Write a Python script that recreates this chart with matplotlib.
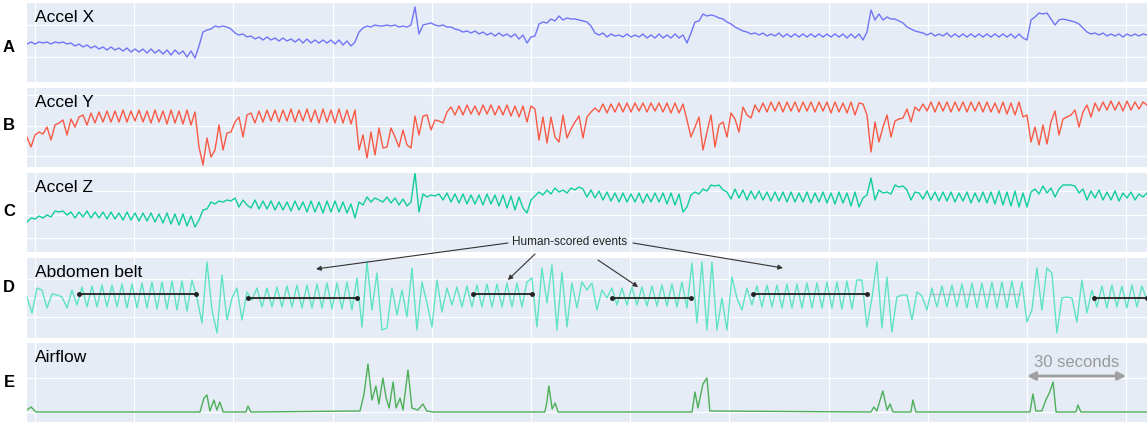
import numpy as np
import matplotlib.pyplot as plt

plt.rcParams['font.family'] = ['Liberation Sans', 'DejaVu Sans']

# ---------------- data ----------------
# dense signals are sampled on a regular grid, values in arbitrary units
t_start = -2.42           # seconds at the left edge
step_acc = 1.2097         # sample step of accel X/Y/Z (s)
step_abd = 1.512          # sample step of abdomen belt (s)

accel_x = [38,40,38,40,39,40,38,40,39,40, 38,39,36,38,35,37,34,36,33,35,
           32,35,32,34,31,34,30,33,30,33, 29,33,29,32,28,32,27,32,28,31,
           25,31,24,36,50,52,53,56,55,56, 55,53,49,47,48,45,46,43,45,42,
           45,42,44,41,44,41,43,40,43,39, 43,39,42,39,42,39,42,38,42,37,
           41,36,40,50,54,56,55,57,56,56, 57,56,57,55,56,55,57,75,48,57,
           58,59,57,56,57,55,55,53,52,50, 51,49,51,48,50,47,49,46,49,46,
           48,45,48,43,47,39,45,46,58,60, 59,63,61,66,62,64,63,63,62,61,
           60,56,49,47,49,45,48,46,47,45, 48,45,47,45,48,44,47,44,48,44,
           47,44,48,44,47,39,49,60,61,68, 66,67,66,64,63,60,58,55,53,51,
           50,48,49,47,49,46,48,46,49,45, 48,45,48,45,48,45,48,45,48,45,
           48,45,48,45,48,44,48,44,48,42, 50,72,62,68,62,65,63,63,61,59,
           55,53,51,50,49,47,49,46,48,46, 49,45,48,45,48,45,48,45,48,45,
           48,45,48,45,48,45,48,44,48,44, 42,62,65,69,68,69,63,57,62,63,
           62,61,60,58,54,50,48,49,47,49, 46,48,46,48,45,48,46,48,46,48,
           47]

accel_y = [30,20,32,35,33,40,27,42,44,47, 32,48,40,50,52,42,54,44,55,45,
           56,45,56,45,57,45,56,46,57,45, 56,44,57,45,56,43,57,44,56,43,
           57,42,55,20,2,29,10,17,42,17, 34,35,45,50,30,52,54,44,56,45,
           57,46,57,45,57,46,58,45,57,46, 58,45,57,44,58,45,57,44,58,44,
           57,43,57,17,32,9,35,12,39,19, 20,39,30,20,37,22,19,51,32,51,
           52,37,47,46,44,55,60,52,61,52, 62,53,61,52,62,53,62,52,61,52,
           62,51,61,50,61,45,61,58,27,50, 24,50,30,25,52,29,38,45,51,29,
           50,55,59,55,63,54,63,55,64,55, 64,55,64,56,64,55,64,56,64,55,
           64,54,64,54,63,47,30,40,50,17, 35,52,20,42,45,30,54,48,35,60,
           52,49,62,55,64,55,65,56,65,55, 65,56,65,55,65,56,65,55,65,56,
           65,54,65,55,64,54,65,52,64,63, 52,15,45,25,40,52,30,46,48,49,
           58,45,60,56,63,56,65,55,65,56, 65,55,65,56,65,55,65,56,65,55,
           65,55,64,54,65,53,64,52,65,50, 52,25,40,22,42,23,45,56,32,48,
           50,52,57,40,55,62,50,64,56,65, 57,66,57,65,56,66,57,65,58,65,
           62]

accel_z = [30,34,33,36,34,37,35,41,40,41, 37,40,34,40,35,41,34,40,34,40,
           33,40,33,39,32,40,32,39,31,39, 31,39,30,38,29,39,28,38,27,38,
           26,36,25,32,42,43,50,48,51,50, 52,51,54,45,52,47,44,52,43,51,
           43,51,42,50,42,50,41,51,42,50, 40,51,40,50,39,51,40,51,40,50,
           39,48,34,50,47,55,50,54,52,50, 55,49,54,47,53,46,50,79,40,58,
           55,57,56,58,52,59,50,58,49,58, 48,57,48,57,47,58,48,57,46,57,
           44,56,42,55,44,39,52,56,60,57, 62,58,64,60,62,59,64,62,65,63,
           55,62,54,61,52,60,51,59,50,59, 50,58,50,59,49,58,50,59,50,59,
           48,59,47,58,40,45,57,60,58,63, 61,67,66,67,62,60,53,63,54,62,
           52,61,53,61,52,60,51,60,51,60, 50,60,50,59,50,60,49,59,50,60,
           49,59,48,60,49,59,46,60,45,54, 57,74,52,62,59,60,58,67,65,66,
           62,52,60,59,53,61,52,60,51,60, 51,60,50,59,51,60,49,59,50,60,
           49,60,48,61,47,60,46,61,45,59, 45,60,63,58,66,59,64,55,63,67,
           67,67,66,59,63,52,61,54,62,52, 60,52,61,51,59,54,60,52,58,55,
           59]

abdomen = [41,25,50,48,30,44,43,41,30,48, 33,51,31,52,31,53,31,53,31,54,
           30,54,30,55,30,56,29,56,29,57, 28,57,27,58,40,15,76,28,5,63,
           18,40,50,18,46,38,50,31,50,31, 51,31,52,31,53,30,53,30,54,30,
           55,29,55,29,56,28,60,11,76,28, 65,8,10,50,23,48,21,70,8,56,
           35,11,58,26,50,33,51,31,52,31, 53,31,54,31,54,31,55,31,55,31,
           56,60,11,70,35,73,8,66,11,55, 30,56,48,55,28,48,40,50,33,50,
           33,51,33,51,32,52,32,53,32,54, 31,56,30,75,15,76,8,76,8,40,
           8,61,40,28,50,33,52,31,53,31, 53,30,54,30,54,30,55,30,55,30,
           56,30,56,29,57,29,58,58,11,40, 76,10,61,6,41,43,43,18,46,42,
           28,50,31,52,31,53,31,54,30,55, 30,55,30,56,30,56,30,57,30,56,
           16,28,70,28,70,65,5,40,41,40, 16,58,25,48,31,52,30,53,31,52,
           30,53,31,52,38]

# airflow is flat most of the time: vertices (time s, value)
airflow_t = [-2.4, -1.2, 0.3, 49.9, 51.1, 52.0, 52.9, 54.1, 55.0, 55.9, 56.9,
             63.8, 64.4, 65.3, 98.3, 99.5, 100.7, 101.9, 103.1, 104.0, 105.2,
             106.2, 107.1, 108.3, 109.2, 110.4, 111.3, 112.8, 114.0, 115.8,
             117.3, 118.5, 120.4, 154.2, 154.8, 155.4, 156.4, 157.3, 158.2,
             198.7, 199.6, 200.5, 202.0, 203.2, 204.1, 252.8, 253.7, 254.6,
             256.4, 257.7, 258.6, 259.5, 264.9, 265.5, 266.4, 300.9, 301.8,
             302.7, 304.5, 305.7, 306.9, 307.9, 308.8, 314.8, 315.4, 316.3,
             336.3]
airflow_v = [12, 15, 10, 10, 24, 27, 11, 22, 12, 20, 10,
             10, 16, 10, 11, 28, 58, 22, 36, 18, 44,
             24, 14, 40, 14, 24, 12, 52, 14, 12,
             18, 11, 10, 10, 20, 36, 13, 19, 10,
             10, 30, 14, 38, 44, 11, 10, 15, 11,
             31, 12, 18, 10, 10, 22, 10, 10, 28,
             11, 11, 22, 30, 40, 10, 10, 17, 10,
             10]

# human-scored events on the abdomen belt
event_start = [13.3, 64.4, 132.5, 174.5, 217.1, 320.2]
event_end = [48.7, 97.4, 150.3, 198.4, 251.6, 336.3]
event_level = [44, 40, 44, 40, 44, 40]
arrow_tip_t = [85.0, 143.0, 182.4, 226.2]
arrow_tip_v = [69, 58, 51, 70]

names = ['Accel X', 'Accel Y', 'Accel Z', 'Abdomen belt', 'Airflow']
letters = ['A', 'B', 'C', 'D', 'E']
colors = ['#7075F5', '#F95A45', '#12CE98', '#5FE3C3', '#4DAF58']

# ---------------- layout (pixels of a 1147x423 canvas) ----------------
W, H = 1147, 423
tops = [3, 88, 173, 258, 343]
bots = [82, 167, 252, 338, 422]
hgrid = [[25, 57], [11, 41, 72], [14, 37, 61], [21, 40, 59], [10, 44]]
letter_y = [48, 125, 212, 288, 382]

fig = plt.figure(figsize=(W / 100, H / 100), dpi=100)

t_acc = t_start + np.arange(len(accel_x)) * step_acc
t_abd = t_start + np.arange(len(abdomen)) * step_abd
series = [(t_acc, accel_x), (t_acc, accel_y), (t_acc, accel_z),
          (t_abd, abdomen), (airflow_t, airflow_v)]

axes = []
for k in range(5):
    ax = fig.add_axes([27 / W, 1 - bots[k] / H, 1120 / W, (bots[k] - tops[k]) / H])
    ax.set_facecolor('#E5ECF6')
    ax.set_xlim(-2.42, 336.3)
    ax.set_ylim(0, bots[k] - tops[k])
    ax.set_xticks(np.arange(0, 331, 30))
    ax.set_yticks(hgrid[k])
    ax.grid(True, color='white', lw=0.9)
    ax.set_axisbelow(True)
    ax.tick_params(length=0, labelbottom=False, labelleft=False)
    for s in ax.spines.values():
        s.set_visible(False)
    x, y = series[k]
    ax.plot(x, y, color=colors[k], lw=1.0, solid_joinstyle='round')
    ax.text(8 / 1120, 1 - 18.5 / (bots[k] - tops[k]), names[k],
            transform=ax.transAxes, fontsize=12.5, va='baseline', ha='left')
    fig.text(9 / W, 1 - letter_y[k] / H, letters[k], fontsize=12,
             fontweight='bold', ha='center', va='center')
    axes.append(ax)

# events on abdomen belt
ax_d = axes[3]
for a, b, lv in zip(event_start, event_end, event_level):
    ax_d.plot([a, b], [lv, lv], color='#222222', lw=1.3, marker='o', ms=2.5,
              clip_on=False, zorder=5)
ax_d.plot([270.6, 297.9], [44, 44], color='#999999', lw=1.0, alpha=0.5)

# annotation arrows pointing at events
tails = [(508, 243), (535, 254), (598, 260), (633, 243)]
for (tx, ty), at, av in zip(tails, arrow_tip_t, arrow_tip_v):
    ax_d.annotate('', xy=(at, av), xycoords='data',
                  xytext=(tx / W, 1 - ty / H), textcoords='figure fraction',
                  arrowprops=dict(arrowstyle='-|>', color='#333333', lw=0.8,
                                  mutation_scale=7, shrinkA=0, shrinkB=0),
                  annotation_clip=False)
fig.text(570 / W, 1 - 242 / H, 'Human-scored events', fontsize=8.5,
         ha='center', va='center', color='#222222')

# 30 second scale bar
ax_e = axes[4]
ax_e.annotate('', xy=(300, 46), xytext=(330, 46),
              arrowprops=dict(arrowstyle='<|-|>', color='#A0A0A0', lw=2,
                              mutation_scale=12, shrinkA=0, shrinkB=0))
ax_e.text(315, 60, '30 seconds', color='#9A9A9A', fontsize=12,
          ha='center', va='center')

fig.savefig('out.png', dpi=100)
